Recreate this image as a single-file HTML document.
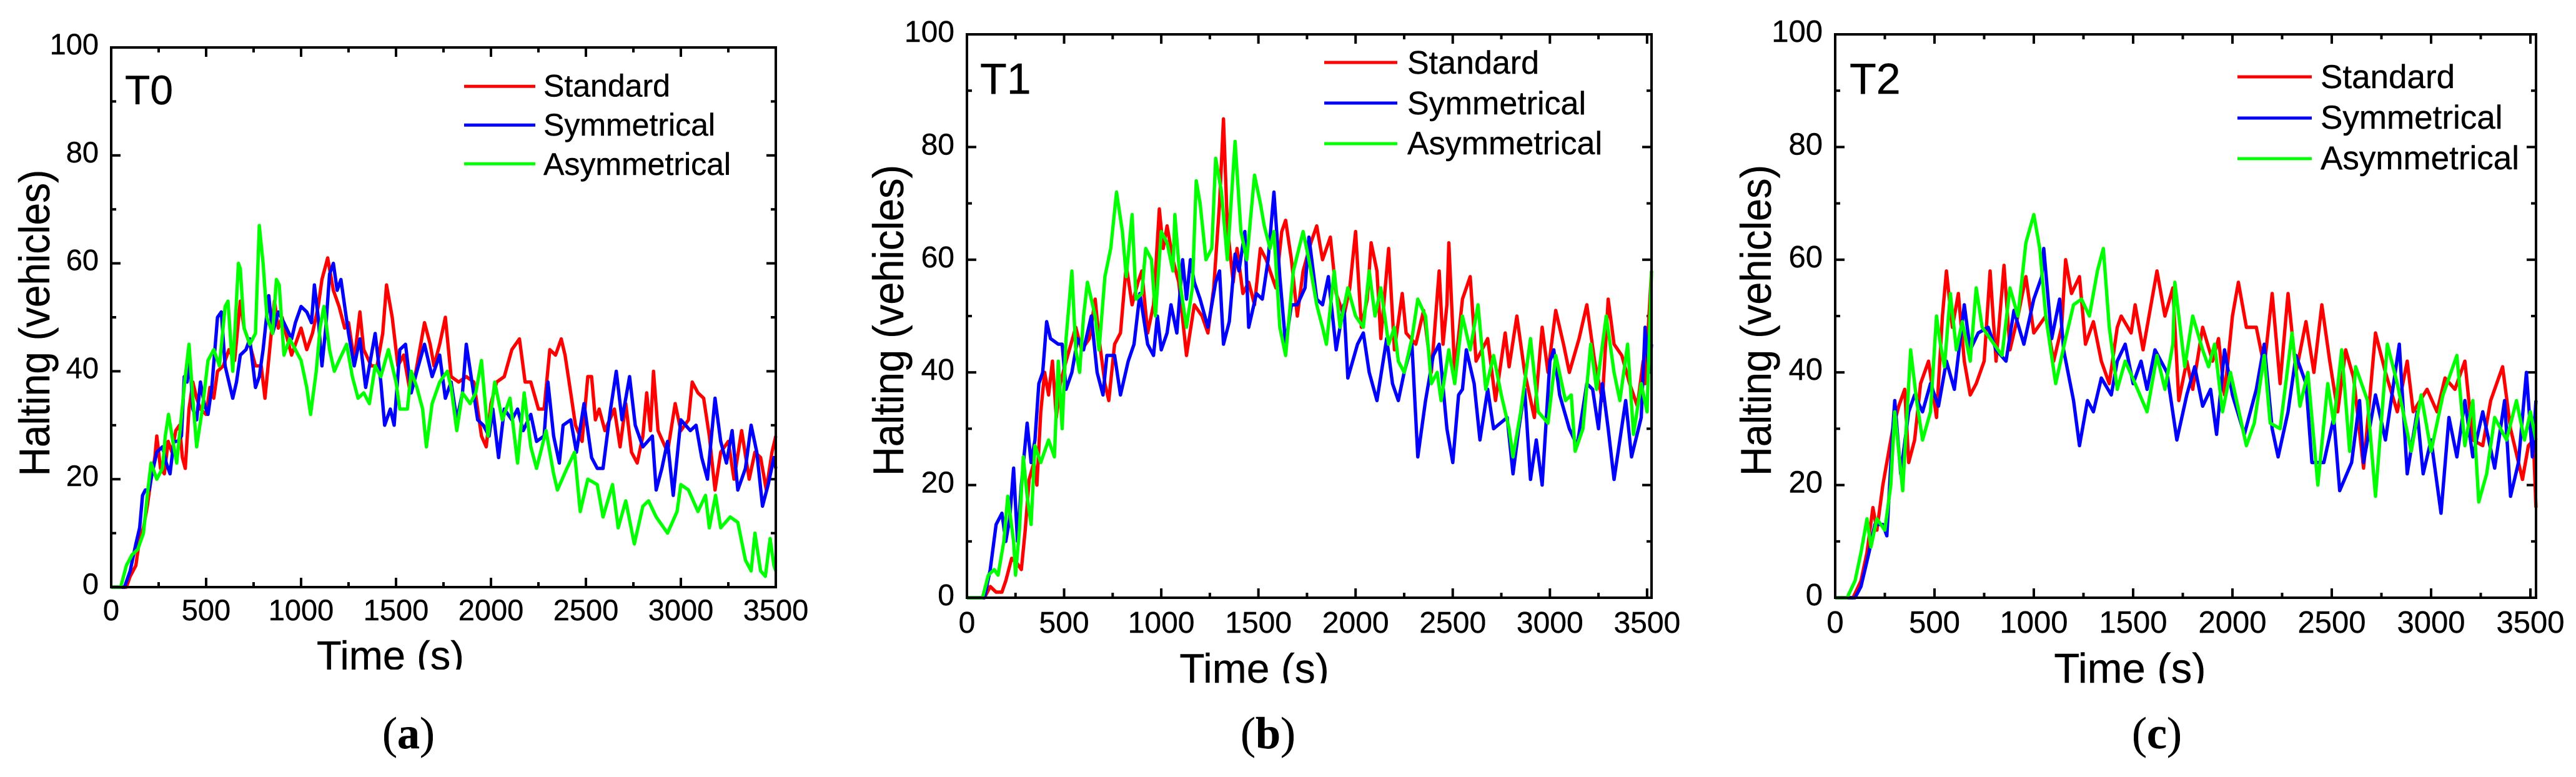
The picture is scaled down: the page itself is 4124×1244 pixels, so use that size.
<!DOCTYPE html>
<html lang="en">
<head>
<meta charset="utf-8">
<title>Halting vehicles over time</title>
<style>
html,body{margin:0;padding:0;background:#fff;width:4124px;height:1244px;overflow:hidden}
svg{display:block}
text{font-family:"Liberation Sans",sans-serif;fill:#000;stroke:#000;stroke-width:.4}
.cap{font-family:"Liberation Serif",serif;font-size:72px}
.cap tspan{font-family:"Liberation Serif",serif}
</style>
</head>
<body>
<svg id="figure" xmlns="http://www.w3.org/2000/svg" width="4124" height="1244" viewBox="0 0 4124 1244">
<rect x="0" y="0" width="4124" height="1244" fill="#fff"/>
<defs>
<clipPath id="clip-xa"><rect x="400" y="1000" width="500" height="72"/></clipPath>
<clipPath id="clip-xb"><rect x="1800" y="1000" width="500" height="94"/></clipPath>
<clipPath id="clip-xc"><rect x="3200" y="1000" width="500" height="94"/></clipPath>
</defs>

<g id="panel-a">
<g id="plot-a"></g>
<rect x="178" y="76" width="1064" height="864" fill="none" stroke="#000" stroke-width="4"/>
<text x="200" y="167" font-size="66">T0</text>
<g>
<line x1="743" x2="857" y1="138.3" y2="138.3" stroke="#f00" stroke-width="5"/>
<text x="870" y="154.5" font-size="50">Standard</text>
<line x1="743" x2="857" y1="200.3" y2="200.3" stroke="#00f" stroke-width="5"/>
<text x="870" y="217" font-size="50">Symmetrical</text>
<line x1="743" x2="857" y1="262.3" y2="262.3" stroke="#0f0" stroke-width="5"/>
<text x="870" y="280" font-size="50">Asymmetrical</text>
</g>
<text transform="translate(79 517) rotate(-90) scale(1 1.07)" text-anchor="middle" font-size="64">Halting (vehicles)</text>
<g clip-path="url(#clip-xa)"><text x="625" y="1072" text-anchor="middle" font-size="65">Time (s)</text></g>
<text class="cap" x="654" y="1198" text-anchor="middle">(<tspan font-weight="bold">a</tspan>)</text>
</g>

<g id="panel-b">
<g id="plot-b"></g>
<rect x="1548" y="55" width="1096" height="902" fill="none" stroke="#000" stroke-width="4"/>
<text x="1569" y="150" font-size="70">T1</text>
<g>
<line x1="2120" x2="2237" y1="100" y2="100" stroke="#f00" stroke-width="5"/>
<text x="2253" y="118" font-size="52">Standard</text>
<line x1="2120" x2="2237" y1="165" y2="165" stroke="#00f" stroke-width="5"/>
<text x="2253" y="183" font-size="52">Symmetrical</text>
<line x1="2120" x2="2237" y1="230" y2="230" stroke="#0f0" stroke-width="5"/>
<text x="2253" y="247" font-size="52">Asymmetrical</text>
</g>
<text transform="translate(1446 513) rotate(-90) scale(1 1.05)" text-anchor="middle" font-size="65">Halting (vehicles)</text>
<g clip-path="url(#clip-xb)"><text x="2008" y="1093" text-anchor="middle" font-size="66">Time (s)</text></g>
<text class="cap" x="2030" y="1198" text-anchor="middle">(<tspan font-weight="bold">b</tspan>)</text>
</g>

<g id="panel-c">
<g id="plot-c"></g>
<rect x="2938" y="55" width="1122" height="902" fill="none" stroke="#000" stroke-width="4"/>
<text x="2961" y="150" font-size="70">T2</text>
<g>
<line x1="3582" x2="3701" y1="123" y2="123" stroke="#f00" stroke-width="5"/>
<text x="3715" y="141" font-size="53">Standard</text>
<line x1="3582" x2="3701" y1="189" y2="189" stroke="#00f" stroke-width="5"/>
<text x="3715" y="206" font-size="53">Symmetrical</text>
<line x1="3582" x2="3701" y1="254" y2="254" stroke="#0f0" stroke-width="5"/>
<text x="3715" y="271" font-size="53">Asymmetrical</text>
</g>
<text transform="translate(2835 513) rotate(-90) scale(1 1.05)" text-anchor="middle" font-size="65">Halting (vehicles)</text>
<g clip-path="url(#clip-xc)"><text x="3410" y="1093" text-anchor="middle" font-size="67">Time (s)</text></g>
<text class="cap" x="3453" y="1198" text-anchor="middle">(<tspan font-weight="bold">c</tspan>)</text>
</g>
</svg>

<script>
const xTickValues = [0,500,1000,1500,2000,2500,3000,3500];
const xTickLabels = ["0","500","1000","1500","2000","2500","3000","3500"];
const xMinorValues = [250,750,1250,1750,2250,2750,3250];
const yTickValues = [0,20,40,60,80,100];
const yTickLabels = ["0","20","40","60","80","100"];
const yMinorValues = [10,30,50,70,90];

/* T0 */
const t0StandardTime = [0,80,100,130,150,170,190,210,230,240,260,280,300,320,340,360,375,390,410,430,450,470,500,520,540,560,590,620,650,680,700,730,760,790,810,840,860,880,900,920,950,980,1000,1030,1060,1090,1110,1140,1170,1200,1230,1250,1280,1310,1330,1370,1400,1430,1450,1480,1510,1540,1570,1600,1650,1680,1700,1730,1760,1790,1830,1870,1910,1950,1975,2000,2030,2070,2110,2150,2180,2210,2250,2280,2310,2340,2370,2390,2420,2445,2480,2510,2530,2550,2570,2600,2650,2680,2710,2740,2770,2800,2820,2840,2856,2880,2930,2970,3000,3040,3060,3090,3120,3150,3180,3210,3250,3280,3320,3360,3390,3420,3450,3480,3500];
const t0StandardValues = [0,0,2,4,9,11,15,20,24,28,22,21,27,25,29,30,24,22,33,38,35,33,32,37,35,40,41,44,42,53,48,45,41,41,35,46,53,48,50,47,43,46,48,44,47,52,57,61,55,52,48,49,42,51,44,41,41,47,56,50,41,43,37,39,49,45,41,45,50,39,38,39,38,28,26,34,38,39,44,46,38,38,33,33,44,43,46,43,36,30,27,39,39,31,33,29,33,26,34,25,23,28,36,29,40,29,25,34,29,31,38,36,35,28,18,25,27,20,29,20,25,24,18,25,28];
const t0SymmetricalTime = [0,70,100,130,150,165,180,200,215,240,270,290,310,330,350,370,385,400,415,430,450,470,490,510,530,560,580,600,620,640,660,680,710,730,760,780,800,830,850,880,910,950,970,1000,1030,1055,1070,1090,1110,1130,1150,1170,1190,1210,1230,1250,1280,1310,1340,1370,1390,1420,1440,1470,1490,1520,1550,1580,1610,1650,1690,1730,1760,1790,1820,1850,1870,1900,1930,1960,1990,2010,2040,2070,2110,2140,2170,2210,2240,2280,2300,2330,2360,2380,2420,2450,2490,2530,2560,2590,2630,2660,2690,2730,2760,2800,2850,2870,2900,2930,2960,3000,3050,3080,3110,3140,3180,3210,3240,3270,3300,3340,3370,3400,3430,3460,3490,3500];
const t0SymmetricalValues = [0,0,3,8,11,17,18,18,21,25,26,23,21,27,27,28,39,38,42,33,31,38,34,32,37,50,51,41,38,35,38,43,44,46,37,39,44,54,47,51,49,46,49,52,51,49,56,50,41,48,58,60,55,57,52,47,41,46,37,43,47,38,30,33,30,44,45,36,40,45,39,43,35,38,31,36,45,38,31,30,28,33,24,33,31,33,29,32,27,28,38,28,23,30,31,25,34,24,22,22,33,40,31,39,30,26,28,18,22,27,17,31,29,30,24,20,35,27,23,29,18,22,30,25,15,19,24,22];
const t0AsymmetricalTime = [0,50,80,110,140,170,190,210,240,270,285,302,325,345,365,390,410,430,450,480,510,540,570,600,615,640,670,680,700,730,760,780,800,820,850,870,885,910,940,970,1000,1030,1050,1080,1100,1120,1150,1175,1200,1240,1270,1300,1330,1360,1390,1420,1460,1500,1520,1560,1580,1610,1640,1660,1690,1730,1770,1790,1820,1850,1890,1920,1950,1985,2020,2060,2100,2140,2175,2210,2240,2290,2330,2350,2400,2440,2470,2510,2560,2590,2640,2670,2710,2755,2800,2830,2870,2930,2980,3000,3040,3090,3130,3150,3183,3210,3260,3300,3340,3370,3390,3420,3445,3470,3490,3500];
const t0AsymmetricalValues = [0,0,4,6,7,10,17,23,20,22,28,32,27,23,30,39,45,35,26,33,42,44,41,52,53,40,60,59,48,45,47,67,60,50,47,57,56,43,46,44,42,37,32,40,48,52,44,40,42,45,39,35,36,34,41,39,44,38,33,33,40,37,33,26,34,38,40,37,29,36,34,36,42,28,38,31,35,23,36,26,22,29,21,18,22,25,14,20,19,13,19,11,16,8,15,16,13,10,14,19,18,14,17,11,17,11,13,12,5,3,10,3,2,9,4,3];

/* T1 */
const t1StandardTime = [0,90,120,150,180,200,230,260,280,300,320,345,360,380,400,420,440,460,480,510,560,590,630,660,680,710,730,760,790,820,850,880,900,930,960,990,1010,1030,1060,1090,1130,1170,1210,1240,1270,1300,1320,1340,1370,1390,1420,1450,1480,1510,1540,1570,1590,1620,1640,1670,1700,1730,1770,1800,1830,1870,1900,1940,1970,2000,2030,2060,2080,2110,2130,2170,2200,2240,2260,2310,2350,2390,2430,2450,2470,2480,2510,2550,2590,2620,2680,2720,2770,2790,2830,2870,2920,2960,2990,3030,3070,3100,3150,3190,3230,3270,3300,3330,3370,3410,3450,3480,3490,3523];
const t1StandardValues = [0,0,2,1,1,3,7,6,5,12,21,24,20,33,40,36,42,32,38,42,48,44,46,53,46,38,35,45,47,59,52,56,58,47,52,69,62,66,60,56,43,52,50,47,55,70,85,66,56,62,54,56,52,62,60,57,55,65,67,60,50,58,63,66,60,64,54,50,55,65,48,53,63,58,46,62,44,54,47,45,51,40,58,45,52,63,40,53,57,42,46,35,47,41,50,40,32,48,40,51,45,40,46,52,42,35,53,45,43,38,34,42,38,58];
const t1SymmetricalTime = [0,90,120,150,180,200,220,240,260,280,310,330,350,370,390,410,430,470,490,510,540,570,600,640,670,700,720,760,790,830,860,890,930,960,980,1000,1030,1050,1080,1110,1130,1150,1170,1200,1240,1280,1300,1320,1350,1380,1400,1430,1450,1490,1520,1550,1580,1610,1640,1670,1700,1740,1760,1800,1830,1860,1900,1940,1960,2010,2040,2070,2110,2160,2190,2220,2250,2290,2320,2360,2400,2430,2470,2500,2530,2550,2570,2610,2640,2680,2710,2780,2810,2840,2870,2900,2930,2960,3000,3020,3050,3100,3140,3190,3220,3250,3270,3300,3330,3360,3390,3420,3470,3490,3510,3523];
const t1SymmetricalValues = [0,0,5,13,15,10,14,23,10,20,31,24,28,38,40,49,46,45,45,37,40,46,44,50,40,36,43,43,36,42,45,54,45,43,50,44,47,52,47,60,53,60,56,53,48,56,58,45,49,61,58,65,48,54,53,60,72,57,45,52,52,55,64,53,52,57,44,52,39,45,47,40,35,46,38,35,40,45,25,35,43,45,30,24,36,37,44,38,28,37,30,32,22,30,37,21,28,20,42,44,36,30,27,38,37,30,38,30,21,28,35,25,32,48,40,45];
const t1AsymmetricalTime = [0,80,110,140,160,190,210,240,250,270,290,310,330,350,380,420,450,470,490,510,540,560,580,600,620,640,660,680,710,740,770,800,820,850,870,900,920,950,970,1000,1030,1060,1070,1100,1130,1160,1180,1200,1230,1260,1280,1310,1340,1380,1410,1440,1480,1510,1530,1560,1580,1610,1640,1680,1730,1760,1800,1830,1850,1890,1920,1960,2000,2040,2070,2100,2130,2170,2200,2220,2250,2290,2320,2360,2390,2420,2440,2480,2510,2550,2590,2630,2670,2710,2750,2790,2810,2850,2900,2940,2990,3030,3080,3110,3130,3170,3210,3240,3290,3330,3360,3400,3430,3470,3500,3523];
const t1AsymmetricalValues = [0,0,4,5,4,10,18,10,4,12,25,18,13,27,24,28,25,42,30,46,58,44,40,50,56,53,50,44,57,62,72,65,57,68,53,54,62,60,50,65,63,58,68,55,48,55,74,70,60,62,78,72,60,81,65,60,75,70,66,62,65,48,43,58,65,60,52,48,45,58,48,55,50,48,58,50,55,45,48,42,40,46,53,50,38,40,35,44,38,50,44,52,37,43,36,30,25,33,46,33,31,43,35,36,26,30,45,37,50,40,35,45,29,38,33,58];

/* T2 */
const t2StandardTime = [0,90,130,160,190,210,240,260,290,320,350,370,400,430,470,510,540,560,590,620,650,680,710,750,780,810,850,880,920,960,1000,1060,1100,1140,1160,1190,1230,1260,1300,1340,1380,1420,1440,1490,1510,1550,1590,1620,1660,1700,1730,1770,1800,1850,1900,1930,1960,2000,2030,2070,2120,2160,2200,2240,2280,2320,2370,2410,2450,2490,2530,2570,2610,2660,2720,2770,2830,2880,2910,2980,3030,3070,3120,3170,3210,3260,3300,3360,3400,3460,3490,3515,3528];
const t2StandardValues = [0,0,3,8,16,12,20,24,30,34,37,24,28,38,42,32,50,58,48,54,42,36,38,42,58,42,59,44,50,57,47,50,42,48,60,54,57,45,49,42,38,48,50,47,52,44,52,58,50,55,35,42,37,48,42,46,36,50,56,48,48,41,54,38,54,40,49,40,52,42,33,44,39,23,47,40,33,42,33,37,33,39,37,42,28,27,35,41,30,21,27,28,16];
const t2SymmetricalTime = [0,100,130,170,200,240,260,290,300,330,370,400,440,480,520,560,600,650,680,720,770,810,860,900,950,1000,1040,1050,1090,1130,1150,1200,1230,1270,1300,1340,1390,1420,1460,1500,1540,1570,1610,1670,1720,1770,1810,1850,1890,1920,1960,2000,2060,2120,2160,2200,2230,2280,2320,2370,2400,2460,2510,2540,2600,2640,2660,2720,2770,2840,2880,2930,2960,3000,3050,3090,3130,3170,3210,3260,3320,3370,3400,3440,3480,3510,3528];
const t2SymmetricalValues = [0,0,2,8,13,13,11,30,35,22,33,36,33,38,34,42,37,52,44,47,48,44,42,51,45,53,57,62,46,53,44,35,27,35,33,39,36,42,45,38,42,37,44,40,28,36,41,34,37,29,44,36,29,37,45,30,25,33,43,38,24,24,32,19,24,35,24,36,28,45,22,33,22,28,15,32,25,35,25,33,23,35,18,24,40,25,35];
const t2AsymmetricalTime = [0,60,100,130,160,180,210,250,280,300,340,380,410,440,480,510,530,550,580,610,640,680,710,740,780,840,880,920,960,1000,1030,1060,1110,1160,1200,1240,1280,1320,1350,1380,1420,1460,1510,1570,1620,1660,1700,1710,1760,1800,1850,1880,1910,1950,1990,2070,2110,2160,2190,2240,2300,2340,2380,2430,2480,2510,2550,2590,2620,2680,2720,2780,2830,2900,2950,3000,3060,3130,3170,3210,3240,3280,3320,3380,3430,3470,3500,3528];
const t2AsymmetricalValues = [0,0,3,8,14,9,14,12,20,33,19,44,35,28,33,50,45,41,54,44,49,42,55,48,46,43,55,50,63,68,62,50,38,46,52,53,50,58,62,48,37,42,38,33,43,37,45,56,41,50,44,41,45,33,40,27,31,43,31,30,47,34,40,20,38,31,44,26,41,35,18,45,38,26,36,26,36,43,27,35,17,22,32,28,35,28,33,28];

const layoutA = {left:178, right:1242, top:76, bottom:940, xPerSecond:0.304, yLabelRight:158, yLabelDrop:11, xLabelY:993, tickFont:47};
const layoutB = {left:1548, right:2644, top:55, bottom:957, xPerSecond:0.3111, yLabelRight:1528, yLabelDrop:12, xLabelY:1013, tickFont:48};
const layoutC = {left:2938, right:4060, top:55, bottom:957, xPerSecond:0.318, yLabelRight:2918, yLabelDrop:12, xLabelY:1013, tickFont:49};
const SVG_NS = "http://www.w3.org/2000/svg";

function scaleX(layout, seconds) { return layout.left + seconds * layout.xPerSecond; }
function scaleY(layout, vehicles) { return layout.bottom - vehicles * (layout.bottom - layout.top) / 100; }

function tickLine(parent, x1, y1, x2, y2) {
  const el = document.createElementNS(SVG_NS, "line");
  
  
  el.setAttribute("x1", x1); el.setAttribute("y1", y1);
  el.setAttribute("x2", x2); el.setAttribute("y2", y2);
  el.setAttribute("stroke", "#000"); el.setAttribute("stroke-width", "4");
  parent.appendChild(el);
}

function drawAxes(parent, layout) {
  const major = 15, minor = 8;
  xTickValues.forEach(function (v, i) {
    const x = scaleX(layout, v);
    if (v > 0) {
      tickLine(parent, x, layout.bottom, x, layout.bottom - major);
      tickLine(parent, x, layout.top, x, layout.top + major);
    }
    const label = document.createElementNS(SVG_NS, "text");
    
    
    label.setAttribute("x", x);
    label.setAttribute("y", layout.xLabelY);
    label.setAttribute("text-anchor", "middle");
    label.setAttribute("font-size", layout.tickFont);
    label.textContent = xTickLabels[i];
    parent.appendChild(label);
  });
  xMinorValues.forEach(function (v) {
    const x = scaleX(layout, v);
    tickLine(parent, x, layout.bottom, x, layout.bottom - minor);
    tickLine(parent, x, layout.top, x, layout.top + minor);
  });
  yTickValues.forEach(function (v, i) {
    const y = scaleY(layout, v);
    if (v > 0 && v < 100) {
      tickLine(parent, layout.left, y, layout.left + major, y);
      tickLine(parent, layout.right, y, layout.right - major, y);
    }
    const label = document.createElementNS(SVG_NS, "text");
    
    
    label.setAttribute("x", layout.yLabelRight);
    label.setAttribute("y", y + layout.yLabelDrop);
    label.setAttribute("text-anchor", "end");
    label.setAttribute("font-size", layout.tickFont);
    label.textContent = yTickLabels[i];
    parent.appendChild(label);
  });
  yMinorValues.forEach(function (v) {
    const y = scaleY(layout, v);
    tickLine(parent, layout.left, y, layout.left + minor, y);
    tickLine(parent, layout.right, y, layout.right - minor, y);
  });
}

function drawSeries(parent, layout, times, values, color, seriesName) {
  const el = document.createElementNS(SVG_NS, "polyline");
  
  
  const pts = times.map(function (t, i) {
    const x = Math.min(scaleX(layout, t), layout.right);
    return x.toFixed(1) + "," + scaleY(layout, values[i]).toFixed(1);
  });
  el.setAttribute("points", pts.join(" "));
  el.setAttribute("fill", "none");
  el.setAttribute("stroke", color);
  el.setAttribute("stroke-width", "5.4");
  el.setAttribute("stroke-linejoin", "round");
  parent.appendChild(el);
}

const plotA = document.getElementById("plot-a");
const plotB = document.getElementById("plot-b");
const plotC = document.getElementById("plot-c");

drawAxes(plotA, layoutA);
drawSeries(plotA, layoutA, t0StandardTime, t0StandardValues, "#f00", "series-standard-t0");
drawSeries(plotA, layoutA, t0SymmetricalTime, t0SymmetricalValues, "#00f", "series-symmetrical-t0");
drawSeries(plotA, layoutA, t0AsymmetricalTime, t0AsymmetricalValues, "#0f0", "series-asymmetrical-t0");

drawAxes(plotB, layoutB);
drawSeries(plotB, layoutB, t1StandardTime, t1StandardValues, "#f00", "series-standard-t1");
drawSeries(plotB, layoutB, t1SymmetricalTime, t1SymmetricalValues, "#00f", "series-symmetrical-t1");
drawSeries(plotB, layoutB, t1AsymmetricalTime, t1AsymmetricalValues, "#0f0", "series-asymmetrical-t1");

drawAxes(plotC, layoutC);
drawSeries(plotC, layoutC, t2StandardTime, t2StandardValues, "#f00", "series-standard-t2");
drawSeries(plotC, layoutC, t2SymmetricalTime, t2SymmetricalValues, "#00f", "series-symmetrical-t2");
drawSeries(plotC, layoutC, t2AsymmetricalTime, t2AsymmetricalValues, "#0f0", "series-asymmetrical-t2");
</script>
</body>
</html>
